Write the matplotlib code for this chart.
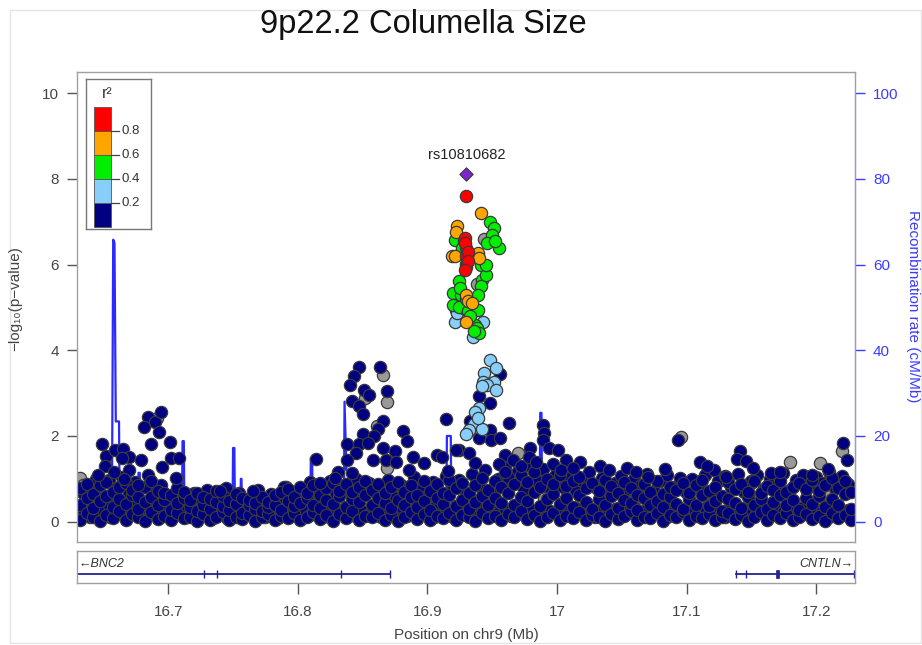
import matplotlib
matplotlib.use("Agg")
import matplotlib.pyplot as plt
from matplotlib.patches import Rectangle

plt.rcParams["font.family"] = ["Liberation Sans", "DejaVu Sans"]

# ---- data (positions in Mb, -log10 p) ----
TOP_SNP   = "rs10810682"
TOP_POS   = 16.930
TOP_LOGP  = 8.12

red_x    = [16.930, 16.929, 16.930, 16.930, 16.930, 16.930, 16.929, 16.931, 16.931, 16.929]
red_y    = [7.61, 6.62, 6.39, 6.19, 6.02, 5.94, 6.50, 6.30, 6.08, 5.88]

orange_x = [16.941, 16.923, 16.922, 16.919, 16.939, 16.940, 16.930, 16.931, 16.934, 16.930, 16.921]
orange_y = [7.21, 6.91, 6.75, 6.19, 6.27, 6.15, 5.30, 5.14, 5.10, 4.67, 6.19]

green_x  = [16.948, 16.951, 16.950, 16.921, 16.927, 16.946, 16.955, 16.941, 16.924, 16.942,
            16.941, 16.920, 16.926, 16.939, 16.920, 16.924, 16.935, 16.931, 16.939, 16.937,
            16.938, 16.928, 16.925, 16.930, 16.933, 16.940, 16.936, 16.945, 16.952, 16.945]
green_y  = [6.99, 6.86, 6.70, 6.58, 6.39, 6.50, 6.39, 6.00, 5.61, 5.65,
            5.51, 5.34, 5.30, 5.30, 5.06, 5.02, 4.99, 4.91, 4.93, 4.60,
            4.52, 6.55, 5.45, 5.20, 4.80, 4.40, 4.45, 5.75, 6.55, 6.00]

lblue_x  = [16.921, 16.923, 16.929, 16.943, 16.935, 16.948, 16.953, 16.944, 16.951, 16.943,
            16.946, 16.953, 16.942, 16.940, 16.937, 16.936, 16.932, 16.942, 16.939, 16.930]
lblue_y  = [4.67, 4.88, 4.96, 4.67, 4.30, 3.78, 3.58, 3.48, 3.27, 3.27,
            3.19, 3.08, 3.17, 2.65, 2.57, 2.28, 2.14, 2.16, 2.42, 2.05]

grey_x   = [16.632, 16.634, 16.691, 16.866, 16.852, 16.869, 16.861, 16.869, 16.791, 16.799,
            16.970, 17.096, 17.180, 17.203, 17.220, 16.655, 16.700, 16.745, 16.780, 16.830,
            16.875, 16.905, 16.950, 16.990, 17.000, 17.025, 17.060, 17.080, 17.120, 17.150,
            17.190, 17.210, 16.938, 16.922, 16.938, 16.944]
grey_y   = [1.01, 0.85, 2.42, 3.43, 2.88, 2.80, 2.24, 1.26, 0.82, 0.16,
            1.60, 1.97, 1.40, 1.36, 1.64, 0.12, 0.35, 0.08, 0.50, 0.22,
            0.60, 0.10, 0.75, 0.55, 1.00, 0.30, 0.70, 0.15, 0.45, 0.90,
            0.20, 0.60, 2.45, 4.95, 5.55, 6.60]

# navy points standing out above the baseline band
navy_x   = [16.649, 16.652, 16.651, 16.646, 16.659, 16.665, 16.670, 16.664, 16.670, 16.666,
            16.658, 16.679, 16.684, 16.690, 16.694, 16.681, 16.693, 16.687, 16.701, 16.702,
            16.708, 16.695, 16.706, 16.677, 16.740, 16.765,
            16.847, 16.863, 16.843, 16.840, 16.851, 16.855, 16.869, 16.842, 16.847, 16.850,
            16.866, 16.862, 16.881, 16.884, 16.914, 16.850, 16.859, 16.838, 16.847, 16.854,
            16.866, 16.875, 16.845, 16.814, 16.838, 16.858, 16.868, 16.876, 16.889, 16.897,
            16.907, 16.911, 16.924, 16.886, 16.831, 16.842, 16.829, 16.817, 16.916,
            16.956, 16.940, 16.948, 16.933, 16.963, 16.940, 16.948, 16.949, 16.956, 16.989,
            16.990, 16.922, 16.932, 16.937, 16.979, 16.989, 16.994, 17.001, 17.007,
            16.960, 16.966, 16.972, 16.978, 16.984, 16.997, 17.003, 16.955, 16.960,
            17.033, 17.040, 17.054, 17.061, 17.083, 17.093, 17.141, 17.139, 17.146, 17.110,
            17.121, 17.151, 17.165, 17.172, 17.221, 17.224, 17.209, 17.197, 17.018, 17.012,
            17.070, 17.130, 17.116]
navy_y   = [1.81, 1.53, 1.29, 1.09, 1.67, 1.69, 1.52, 1.49, 1.21, 0.99,
            1.17, 1.43, 2.44, 2.32, 2.55, 2.20, 2.10, 1.81, 1.85, 1.48,
            1.48, 1.27, 1.01, 0.86, 0.72, 0.72,
            3.62, 3.61, 3.40, 3.19, 3.08, 2.96, 3.06, 2.82, 2.69, 2.52,
            2.36, 2.16, 2.12, 1.89, 2.39, 2.04, 1.99, 1.81, 1.82, 1.83,
            1.71, 1.65, 1.60, 1.47, 1.43, 1.43, 1.44, 1.40, 1.52, 1.38,
            1.56, 1.52, 1.67, 1.21, 1.17, 1.13, 1.03, 0.91, 1.18,
            3.45, 2.94, 2.78, 2.34, 2.31, 1.95, 2.13, 1.91, 1.95, 2.26,
            2.07, 1.67, 1.60, 1.37, 1.71, 1.91, 1.71, 1.67, 1.44,
            1.55, 1.45, 1.30, 1.50, 1.40, 1.35, 1.20, 1.35, 1.15,
            1.31, 1.20, 1.26, 1.15, 1.22, 1.90, 1.64, 1.46, 1.42, 1.40,
            1.21, 1.25, 1.13, 1.16, 1.83, 1.44, 1.22, 1.10, 1.40, 1.25,
            1.05, 1.05, 1.30]

# dense navy baseline band: one x per column, several -log10 p values each
band_x = [16.632, 16.637, 16.642, 16.647, 16.652, 16.657, 16.662, 16.667, 16.672, 16.677,
          16.682, 16.687, 16.692, 16.697, 16.702, 16.707, 16.712, 16.717, 16.722, 16.727,
          16.732, 16.737, 16.742, 16.747, 16.752, 16.757, 16.762, 16.767, 16.772, 16.777,
          16.782, 16.787, 16.792, 16.797, 16.802, 16.807, 16.812, 16.817, 16.822, 16.827,
          16.832, 16.837, 16.842, 16.847, 16.852, 16.857, 16.862, 16.867, 16.872, 16.877,
          16.882, 16.887, 16.892, 16.897, 16.902, 16.907, 16.912, 16.917, 16.922, 16.927,
          16.932, 16.937, 16.942, 16.947, 16.952, 16.957, 16.962, 16.967, 16.972, 16.977,
          16.982, 16.987, 16.992, 16.997, 17.002, 17.007, 17.012, 17.017, 17.022, 17.027,
          17.032, 17.037, 17.042, 17.047, 17.052, 17.057, 17.062, 17.067, 17.072, 17.077,
          17.082, 17.087, 17.092, 17.097, 17.102, 17.107, 17.112, 17.117, 17.122, 17.127,
          17.132, 17.137, 17.142, 17.147, 17.152, 17.157, 17.162, 17.167, 17.172, 17.177,
          17.182, 17.187, 17.192, 17.197, 17.202, 17.207, 17.212, 17.217, 17.222, 17.227]
band_y = [(0.05, 0.40, 0.78), (0.20, 0.55, 0.88), (0.10, 0.32, 0.65), (0.02, 0.48, 0.85),
          (0.15, 0.60, 0.92), (0.08, 0.35, 0.70), (0.25, 0.52, 0.80), (0.04, 0.42, 0.90),
          (0.18, 0.62, 0.75), (0.10, 0.30, 0.58), (0.02, 0.45, 0.82), (0.22, 0.58, 0.95),
          (0.06, 0.38, 0.72), (0.14, 0.50, 0.68), (0.03, 0.28, 0.62), (0.20, 0.44, 0.78),
          (0.08, 0.56, 0.70), (0.12, 0.34, 0.50), (0.02, 0.25, 0.66), (0.18, 0.40, 0.58),
          (0.05, 0.30, 0.52), (0.10, 0.46, 0.72), (0.22, 0.36, 0.60), (0.04, 0.28, 0.48),
          (0.12, 0.42, 0.64), (0.06, 0.20, 0.55), (0.16, 0.38, 0.50), (0.02, 0.30, 0.44),
          (0.10, 0.24, 0.58), (0.18, 0.34, 0.46), (0.05, 0.40, 0.62), (0.14, 0.28, 0.70),
          (0.08, 0.48, 0.76), (0.20, 0.36, 0.58), (0.03, 0.44, 0.80), (0.12, 0.55, 0.68),
          (0.22, 0.40, 0.85), (0.06, 0.32, 0.62), (0.15, 0.50, 0.78), (0.02, 0.42, 0.90),
          (0.18, 0.60, 0.72), (0.08, 0.35, 0.88), (0.24, 0.52, 0.70), (0.04, 0.46, 0.82),
          (0.14, 0.62, 0.95), (0.10, 0.38, 0.75), (0.20, 0.55, 0.88), (0.05, 0.44, 0.68),
          (0.16, 0.32, 0.80), (0.02, 0.50, 0.92), (0.12, 0.40, 0.70), (0.22, 0.58, 0.85),
          (0.06, 0.34, 0.62), (0.18, 0.48, 0.95), (0.03, 0.28, 0.72), (0.14, 0.55, 0.88),
          (0.08, 0.42, 0.66), (0.20, 0.62, 0.98), (0.04, 0.36, 0.78), (0.16, 0.50, 0.90),
          (0.10, 0.30, 0.68), (0.02, 0.46, 0.85), (0.20, 0.60, 1.02), (0.08, 0.38, 0.75),
          (0.14, 0.55, 0.95), (0.04, 0.44, 0.82), (0.18, 0.66, 1.05), (0.10, 0.40, 0.88),
          (0.24, 0.58, 1.10), (0.06, 0.48, 0.92), (0.16, 0.70, 1.15), (0.02, 0.36, 0.80),
          (0.12, 0.52, 1.00), (0.20, 0.64, 0.88), (0.05, 0.42, 1.08), (0.14, 0.56, 0.84),
          (0.08, 0.34, 0.96), (0.22, 0.62, 1.05), (0.03, 0.46, 0.78), (0.16, 0.30, 0.90),
          (0.10, 0.54, 0.72), (0.02, 0.40, 0.98), (0.18, 0.60, 0.84), (0.06, 0.32, 0.66),
          (0.14, 0.50, 0.92), (0.24, 0.44, 0.78), (0.04, 0.28, 0.62), (0.12, 0.56, 0.88),
          (0.08, 0.38, 0.70), (0.20, 0.48, 0.96), (0.02, 0.34, 0.64), (0.16, 0.58, 0.82),
          (0.10, 0.42, 0.74), (0.22, 0.30, 0.90), (0.05, 0.52, 0.68), (0.14, 0.40, 0.86),
          (0.08, 0.62, 0.98), (0.18, 0.36, 0.72), (0.03, 0.48, 0.80), (0.12, 0.26, 0.60),
          (0.20, 0.54, 0.92), (0.06, 0.44, 0.76), (0.15, 0.32, 0.88), (0.02, 0.58, 0.70),
          (0.10, 0.40, 0.94), (0.22, 0.52, 0.66), (0.05, 0.30, 0.84), (0.16, 0.46, 0.74),
          (0.08, 0.62, 0.96), (0.20, 0.38, 0.70), (0.03, 0.50, 0.82), (0.12, 0.28, 0.90),
          (0.18, 0.56, 0.76), (0.06, 0.42, 0.98), (0.14, 0.60, 0.72), (0.02, 0.34, 0.86),
          (0.20, 0.52, 1.02), (0.08, 0.40, 0.78), (0.16, 0.64, 0.94), (0.04, 0.30, 0.70)]

band2_x = [16.6345, 16.6395, 16.6445, 16.6495, 16.6545, 16.6595, 16.6645, 16.6695, 16.6745, 16.6795,
           16.6845, 16.6895, 16.6945, 16.6995, 16.7045, 16.7095, 16.7145, 16.7195, 16.7245, 16.7295,
           16.7345, 16.7395, 16.7445, 16.7495, 16.7545, 16.7595, 16.7645, 16.7695, 16.7745, 16.7795,
           16.7845, 16.7895, 16.7945, 16.7995, 16.8045, 16.8095, 16.8145, 16.8195, 16.8245, 16.8295,
           16.8345, 16.8395, 16.8445, 16.8495, 16.8545, 16.8595, 16.8645, 16.8695, 16.8745, 16.8795,
           16.8845, 16.8895, 16.8945, 16.8995, 16.9045, 16.9095, 16.9145, 16.9195, 16.9245, 16.9295,
           16.9345, 16.9395, 16.9445, 16.9495, 16.9545, 16.9595, 16.9645, 16.9695, 16.9745, 16.9795,
           16.9845, 16.9895, 16.9945, 16.9995, 17.0045, 17.0095, 17.0145, 17.0195, 17.0245, 17.0295,
           17.0345, 17.0395, 17.0445, 17.0495, 17.0545, 17.0595, 17.0645, 17.0695, 17.0745, 17.0795,
           17.0845, 17.0895, 17.0945, 17.0995, 17.1045, 17.1095, 17.1145, 17.1195, 17.1245, 17.1295,
           17.1345, 17.1395, 17.1445, 17.1495, 17.1545, 17.1595, 17.1645, 17.1695, 17.1745, 17.1795,
           17.1845, 17.1895, 17.1945, 17.1995, 17.2045, 17.2095, 17.2145, 17.2195, 17.2245]
band2_y = [(0.28, 0.66), (0.12, 0.72), (0.34, 1.00), (0.25, 0.58), (0.40, 0.98), (0.18, 0.78),
           (0.30, 1.05), (0.22, 0.68), (0.36, 0.92), (0.15, 0.82), (0.30, 1.10), (0.26, 0.70),
           (0.20, 0.86), (0.32, 0.60),
           (0.14, 0.52), (0.30, 0.70), (0.10, 0.48), (0.26, 0.66), (0.16, 0.54), (0.32, 0.74),
           (0.08, 0.44), (0.22, 0.62), (0.14, 0.78), (0.28, 0.52), (0.10, 0.66), (0.24, 0.42),
           (0.16, 0.60), (0.30, 0.74), (0.12, 0.50), (0.26, 0.64), (0.08, 0.56), (0.22, 0.80),
           (0.14, 0.46), (0.28, 0.68),
           (0.30, 0.70), (0.16, 0.92), (0.28, 0.66), (0.12, 0.76), (0.34, 0.96), (0.20, 0.64),
           (0.30, 0.84), (0.14, 0.72), (0.36, 1.00), (0.24, 0.62), (0.18, 0.90), (0.32, 0.74),
           (0.10, 0.64), (0.28, 0.98), (0.22, 0.58), (0.34, 0.86), (0.14, 0.70), (0.30, 1.04),
           (0.20, 0.76), (0.26, 0.60),
           (0.32, 0.92), (0.18, 0.70), (0.28, 1.06), (0.12, 0.80), (0.36, 0.98), (0.22, 0.66),
           (0.30, 1.12), (0.16, 0.84), (0.34, 1.20), (0.26, 0.72), (0.20, 1.00), (0.30, 1.25),
           (0.14, 0.86), (0.38, 1.18), (0.24, 0.74), (0.30, 1.30), (0.18, 0.96), (0.34, 1.22),
           (0.26, 0.78), (0.20, 1.12),
           (0.30, 0.82), (0.16, 1.10), (0.32, 0.72), (0.22, 0.94), (0.28, 1.16), (0.12, 0.80),
           (0.34, 1.02), (0.20, 0.70), (0.30, 0.90), (0.16, 1.06), (0.26, 0.76), (0.34, 1.00),
           (0.18, 0.86), (0.30, 1.12), (0.22, 0.72), (0.28, 0.94), (0.12, 1.08), (0.34, 0.80),
           (0.20, 1.02), (0.30, 0.70),
           (0.24, 1.00), (0.16, 0.80), (0.32, 1.10), (0.22, 0.72), (0.28, 0.96), (0.12, 1.06),
           (0.34, 0.82), (0.20, 1.12), (0.30, 0.70), (0.18, 0.94), (0.26, 1.08), (0.34, 0.76),
           (0.14, 1.00), (0.30, 0.86), (0.22, 1.14), (0.28, 0.74), (0.16, 0.98), (0.34, 1.10),
           (0.20, 0.80), (0.30, 1.04), (0.24, 0.90), (0.12, 1.16), (0.32, 0.78), (0.22, 1.06),
           (0.28, 0.88)]

# recombination rate (cM/Mb)
recomb_pos  = [16.6300, 16.6500, 16.6565, 16.6575, 16.6585, 16.6595, 16.6620, 16.6625,
               16.6765, 16.6770, 16.6780, 16.6785, 16.7105, 16.7110, 16.7120, 16.7125,
               16.7495, 16.7500, 16.7510, 16.7515, 16.7555, 16.7560, 16.7565, 16.7570,
               16.8095, 16.8100, 16.8110, 16.8115, 16.8355, 16.8360, 16.8375, 16.8405,
               16.8410, 16.9145, 16.9150, 16.9180, 16.9185, 16.9300, 16.9350, 16.9360,
               16.9450, 16.9460, 16.9865, 16.9870, 16.9880, 16.9885, 17.0500, 17.1000,
               17.1500, 17.2300]
recomb_rate = [0.5, 0.8, 1.2, 65.8, 65.0, 23.4, 23.4, 1.0,
               1.0, 11.4, 11.4, 1.0, 0.8, 18.8, 18.8, 0.8,
               0.6, 17.2, 17.2, 1.0, 1.0, 10.0, 10.0, 1.0,
               1.0, 14.9, 14.9, 1.2, 1.2, 28.0, 12.0, 12.0,
               1.0, 1.0, 20.0, 20.0, 1.0, 0.5, 0.2, 1.0,
               1.0, 0.3, 0.5, 25.4, 25.4, 0.8, 0.6, 0.8,
               0.7, 0.6]

# gene models (exon / tick positions in Mb)
BNC2_EXONS  = [16.7275, 16.7375, 16.833, 16.871]
CNTLN_EXONS = [17.138, 17.146, 17.229]
CNTLN_THICK = 17.170

R2_BREAKS = [0.2, 0.4, 0.6, 0.8]
R2_COLORS = ["#000080", "#87CEFA", "#00EE00", "#FFA500", "#FF0000"]

XLIM = (16.6298, 17.2299)
YLIM = (-0.467, 10.5)
W, H = 922, 645


def fx(px):
    return px / W


def fy(py):
    return 1 - py / H


fig = plt.figure(figsize=(W / 100, H / 100), dpi=100)

# faint frame of the exported image
fig.add_artist(Rectangle((fx(10), fy(643)), fx(911), 633 / H, transform=fig.transFigure,
                         fill=False, ec="#e4e4e4", lw=1))

ax = fig.add_axes([fx(77.3), fy(541.7), fx(777.7), 470 / H])
ax2 = ax.twinx()
ax.set_zorder(ax2.get_zorder() + 1)
ax.patch.set_visible(False)

# recombination rate on the right axis
ax2.plot(recomb_pos, recomb_rate, color="#2a2aff", lw=1.6)
ax2.set_ylim(YLIM[0] * 10, YLIM[1] * 10)
ax2.set_yticks([0, 20, 40, 60, 80, 100])
ax2.tick_params(axis="y", colors="#3c3cff", labelsize=11, length=7, width=1, pad=6)
for s in ["top", "bottom", "left"]:
    ax2.spines[s].set_visible(False)
ax2.spines["right"].set_color("#4a4aff")
ax2.spines["right"].set_bounds(0, 100)

# association points, low r2 first
pt = dict(s=78, edgecolors="#3a3a3a", linewidths=0.9)
ax.scatter(grey_x, grey_y, c="#999999", **pt)
bx = [x for x, ys in zip(band_x, band_y) for _ in ys]
by = [y for ys in band_y for y in ys]
bx2 = [x for x, ys in zip(band2_x, band2_y) for _ in ys]
by2 = [y for ys in band2_y for y in ys]
ax.scatter(bx2, by2, c=R2_COLORS[0], **pt)
ax.scatter(bx, by, c=R2_COLORS[0], **pt)
ax.scatter(navy_x, navy_y, c=R2_COLORS[0], **pt)
ax.scatter(lblue_x, lblue_y, c=R2_COLORS[1], **pt)
ax.scatter(green_x, green_y, c=R2_COLORS[2], **pt)
ax.scatter(orange_x, orange_y, c=R2_COLORS[3], **pt)
ax.scatter(red_x, red_y, c=R2_COLORS[4], **pt)
ax.scatter([TOP_POS], [TOP_LOGP], marker="D", s=46, c="#7D26CD",
           edgecolors="#3a3a3a", linewidths=0.8, zorder=5)
ax.text(TOP_POS, TOP_LOGP + 0.28, TOP_SNP, ha="center", va="bottom",
        fontsize=10.5, color="#222222")

ax.set_xlim(*XLIM)
ax.set_ylim(*YLIM)
ax.set_xticks([])
ax.set_yticks([0, 2, 4, 6, 8, 10])
ax.tick_params(axis="y", colors="#555555", labelcolor="#444444", labelsize=11,
               length=7, width=1, pad=6)
for s in ax.spines.values():
    s.set_color("#a0a0a0")
    s.set_linewidth(1)

# r^2 legend
lg = fig.add_axes([fx(86), fy(229), fx(65), 150 / H])
lg.set_xlim(0, 65)
lg.set_ylim(150, 0)
lg.set_xticks([])
lg.set_yticks([])
for s in lg.spines.values():
    s.set_color("#777777")
    s.set_linewidth(1)
edges = [147.7, 124.3, 100.3, 76.0, 52.0, 28.3]
for i, col in enumerate(R2_COLORS):
    lg.add_patch(Rectangle((8, edges[i + 1]), 16.7, edges[i] - edges[i + 1],
                           fc=col, ec="#555555", lw=0.6))
for i, b in enumerate(R2_BREAKS):
    yb = edges[i + 1]
    lg.plot([24.7, 33], [yb, yb], color="#444444", lw=0.9)
    lg.text(36, yb, f"{b:.1f}", va="center", ha="left", fontsize=9.5, color="#333333")
lg.text(21, 15, "r²", ha="center", va="center", fontsize=11.5, color="#333333")

# gene track
gx = fig.add_axes([fx(77.3), fy(583), fx(777.7), 32 / H])
gx.set_xlim(*XLIM)
gx.set_ylim(0, 1)
gx.set_yticks([])
gx.set_xticks([16.7, 16.8, 16.9, 17.0, 17.1, 17.2])
gx.set_xticklabels(["16.7", "16.8", "16.9", "17", "17.1", "17.2"])
gx.tick_params(axis="x", colors="#555555", labelcolor="#444444", labelsize=11,
               length=8, width=1, pad=8)
for s in gx.spines.values():
    s.set_color("#a0a0a0")
    s.set_linewidth(1)
gene_col = "#23238f"
gy = 0.28
gx.plot([XLIM[0], BNC2_EXONS[-1]], [gy, gy], color=gene_col, lw=1.3)
gx.vlines(BNC2_EXONS, gy - 0.13, gy + 0.13, color=gene_col, lw=1)
gx.plot([CNTLN_EXONS[0], XLIM[1]], [gy, gy], color=gene_col, lw=1.3)
gx.vlines(CNTLN_EXONS, gy - 0.13, gy + 0.13, color=gene_col, lw=1)
gx.add_patch(Rectangle((CNTLN_THICK - 0.0012, gy - 0.12), 0.0024, 0.24,
                       fc=gene_col, ec=gene_col, lw=0.5))
gx.text(XLIM[0] + 0.001, 0.60, "\u2190BNC2", ha="left", va="center", fontsize=9,
        style="italic", color="#333333")
gx.text(XLIM[1] - 0.001, 0.60, "CNTLN\u2192", ha="right", va="center", fontsize=9,
        style="italic", color="#333333")

# labels
fig.text(fx(423), fy(25), "9p22.2 Columella Size", ha="center", va="center",
         fontsize=23.5, color="#111111")
fig.text(fx(15), fy(299), "\u2212log\u2081\u2080(p\u2212value)", rotation=90,
         ha="center", va="center", fontsize=11, color="#444444")
fig.text(fx(913), fy(306), "Recombination rate (cM/Mb)", rotation=270,
         ha="center", va="center", fontsize=11, color="#3c3cff")
fig.text(fx(466), fy(635), "Position on chr9 (Mb)", ha="center", va="center",
         fontsize=11, color="#444444")

fig.savefig("out.png", dpi=100)
